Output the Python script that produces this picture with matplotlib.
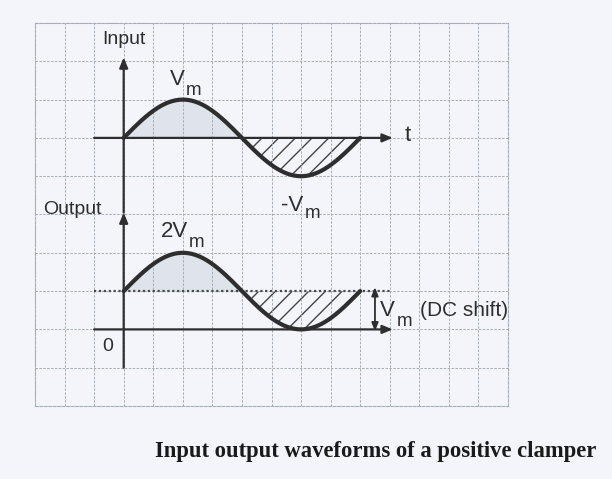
import numpy as np
import matplotlib
matplotlib.use("Agg")
import matplotlib.pyplot as plt

# waveform parameters (in units of Vm and grid columns; one column = pi/4 rad)
VM = 1.0
DC_SHIFT = VM
INPUT_BASE = 5.0          # input trace is drawn above the output trace
CYCLES = 1.0
GRID_X = np.arange(-3, 14)  # column lines
GRID_Y = np.arange(-2, 9)   # row lines

LABEL_FONT = ["Liberation Sans", "DejaVu Sans"]
INK = "#2e2e2e"
PAPER = "#f3f5fa"
GRID = "#a7adb6"

col = np.pi / 4
theta = np.linspace(0, 2 * np.pi * CYCLES, 400)
x = theta / col
v_in = INPUT_BASE + VM * np.sin(theta)
v_out = DC_SHIFT + VM * np.sin(theta)

fig = plt.figure(figsize=(6.12, 4.79), dpi=100, facecolor=PAPER)
ax = fig.add_axes([35 / 612, 1 - 406 / 479, 473 / 612, 383 / 479])
ax.set_facecolor(PAPER)
ax.set_xlim(GRID_X[0], GRID_X[-1])
ax.set_ylim(GRID_Y[0], GRID_Y[-1])
ax.set_xticks(GRID_X)
ax.set_yticks(GRID_Y)
ax.tick_params(length=0, labelbottom=False, labelleft=False)
ax.grid(True, color=GRID, lw=0.7, ls=(0, (2.5, 1.5)))
for s in ax.spines.values():
    s.set_color(GRID)
    s.set_linewidth(0.8)
    s.set_linestyle((0, (2.5, 1.5)))

plt.rcParams["hatch.linewidth"] = 1.0

# shaded / hatched half cycles
pos_in = v_in >= INPUT_BASE
ax.fill_between(x, INPUT_BASE, v_in, where=pos_in, facecolor="#dfe3ea", lw=0)
ax.fill_between(x, INPUT_BASE, v_in, where=~pos_in, facecolor="none",
                edgecolor="#444444", hatch="//", lw=0)
pos_out = v_out >= DC_SHIFT
ax.fill_between(x, DC_SHIFT, v_out, where=pos_out, facecolor="#dfe3ea", lw=0)
ax.fill_between(x, DC_SHIFT, v_out, where=~pos_out, facecolor="none",
                edgecolor="#444444", hatch="//", lw=0)

# axes of the two traces
arrow = dict(arrowstyle="-|>,head_length=0.6,head_width=0.25", color=INK, lw=1.6,
             shrinkA=0, shrinkB=0)
ax.annotate("", xy=(9.1, INPUT_BASE), xytext=(-1, INPUT_BASE), arrowprops=arrow)
ax.annotate("", xy=(9.1, 0), xytext=(-1, 0), arrowprops=arrow)
ax.annotate("", xy=(0, 3.05), xytext=(0, -1), arrowprops=arrow)
ax.annotate("", xy=(0, 7.1), xytext=(0, 3.05), arrowprops=arrow)

# DC level of the clamped output
ax.plot([-1, 9], [DC_SHIFT, DC_SHIFT], color="#4a4a4a", lw=1.6, ls=(0, (1, 1.2)))

ax.plot(x, v_in, color=INK, lw=3, solid_capstyle="round")
ax.plot(x, v_out, color=INK, lw=3, solid_capstyle="round")

# DC shift marker
ax.annotate("", xy=(8.5, -0.05), xytext=(8.5, DC_SHIFT + 0.1),
            arrowprops=dict(arrowstyle="<|-|>,head_length=0.5,head_width=0.2",
                            color=INK, lw=1.3, shrinkA=0, shrinkB=0))

txt = dict(color=INK, family=LABEL_FONT)


def vm_label(xr, yb, prefix="", size=16, drop=7):
    # "V" ends at xr on baseline yb, the "m" sits lower at nearly full size
    ax.text(xr, yb, prefix + "V", ha="right", va="baseline", fontsize=size, **txt)
    ax.annotate("m", xy=(xr, yb), xytext=(1, -drop), textcoords="offset points",
                ha="left", va="baseline", fontsize=size * 0.85, **txt)


ax.text(0, 7.58, "Input", ha="center", va="center", fontsize=14, **txt)
ax.text(-1.72, 3.12, "Output", ha="center", va="center", fontsize=14, **txt)
ax.text(9.62, INPUT_BASE + 0.05, "t", ha="center", va="center", fontsize=16, **txt)
vm_label(2.06, INPUT_BASE + 1.38)
vm_label(6.09, INPUT_BASE - 1.91, prefix="-", drop=5)
vm_label(2.17, 2.41, prefix="2")
ax.text(-0.55, -0.45, "0", ha="center", va="center", fontsize=14, **txt)
vm_label(9.18, 0.35)
ax.text(10.02, 0.35, "(DC shift)", ha="left", va="baseline", fontsize=15, **txt)

fig.text(155 / 612, 1 - 452 / 479, "Input output waveforms of a positive clamper",
         ha="left", va="center", fontsize=16.3, fontweight="bold",
         family=["Liberation Serif", "DejaVu Serif"], color="#1a1a1a")

fig.savefig("out.png", dpi=100, facecolor=PAPER)
